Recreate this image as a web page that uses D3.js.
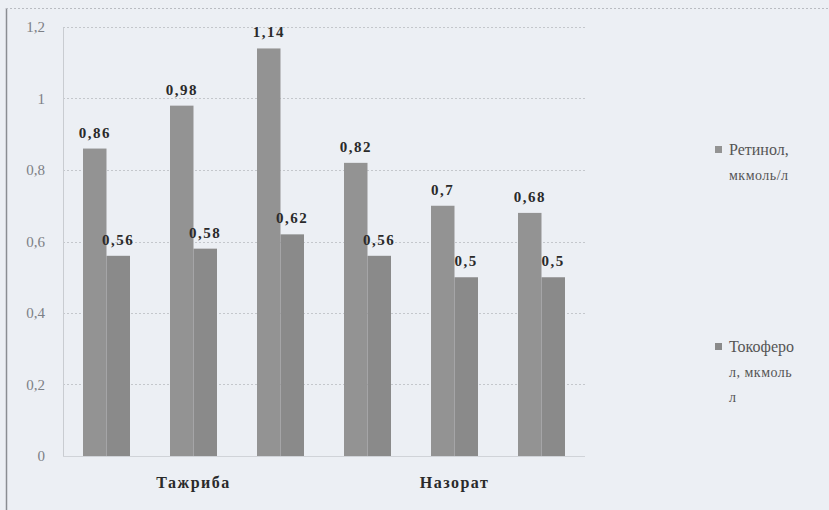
<!DOCTYPE html>
<html>
<head>
<meta charset="utf-8">
<script src="https://cdn.jsdelivr.net/npm/d3@7"></script>
<style>
  html, body { margin: 0; padding: 0; background: #eceff4; }
  svg { display: block; }
  svg text { font-family: "Liberation Serif", "Times New Roman", "DejaVu Serif", serif; }
</style>
</head>
<body>
<svg id="chart" width="829" height="510"></svg>
<script>
// ---- data ----
const categories = ["Т1", "Т2", "Т3", "Н1", "Н2", "Н3"];
const categoryGroup = ["Тажриба", "Тажриба", "Тажриба", "Назорат", "Назорат", "Назорат"];
const outerLabels = ["Тажриба", "Назорат"];
const seriesNames = ["Ретинол, мкмоль/л", "Токоферол, мкмоль/л"];
const legendLines = [["Ретинол,", "мкмоль/л"], ["Токоферо", "л, мкмоль", "л"]];
const retinol = [0.86, 0.98, 1.14, 0.82, 0.7, 0.68];
const tocopherol = [0.56, 0.58, 0.62, 0.56, 0.5, 0.5];
const yTicks = [0, 0.2, 0.4, 0.6, 0.8, 1, 1.2];

const comma = v => String(v).replace(".", ",");
const SERIF = "'Liberation Serif', 'Times New Roman', 'DejaVu Serif', serif";

const svg = d3.select("#chart");
const W = 829, H = 510;
const plot = { left: 63, right: 585, top: 27, bottom: 456 };

// frame
svg.append("rect").attr("x", 0).attr("y", 0).attr("width", W).attr("height", H).attr("fill", "#eceff4");
svg.append("line").attr("x1", 6.5).attr("x2", 6.5).attr("y1", 8).attr("y2", H)
  .attr("stroke", "#8a8d92").attr("stroke-width", 1.5);
svg.append("line").attr("x1", 6).attr("x2", W).attr("y1", 8.5).attr("y2", 8.5)
  .attr("stroke", "#b9bcc2").attr("stroke-width", 1).attr("stroke-dasharray", "2,2");

// scales
const x0 = d3.scaleBand().domain(categories).range([plot.left, plot.right])
  .paddingInner(0.46).paddingOuter(0.23);
const x1 = d3.scaleBand().domain(seriesNames).range([0, x0.bandwidth()]);
const y = d3.scaleLinear().domain([0, 1.2]).range([plot.bottom, plot.top]);

// gridlines
svg.append("g").selectAll("line").data(yTicks.filter(t => t > 0)).join("line")
  .attr("x1", plot.left).attr("x2", plot.right)
  .attr("y1", d => Math.round(y(d)) + 0.5).attr("y2", d => Math.round(y(d)) + 0.5)
  .attr("stroke", "#c4c7cc").attr("stroke-width", 1).attr("stroke-dasharray", "2,2");

// y axis
const yAxis = d3.axisLeft(y).tickValues(yTicks).tickFormat(comma).tickSize(0).tickPadding(18);
const gy = svg.append("g").attr("transform", `translate(${plot.left},0)`).call(yAxis);
gy.attr("font-family", null).attr("font-size", null);
gy.select(".domain").attr("stroke", "#c9ccd1");
gy.selectAll("text").style("font-family", SERIF)
  .style("font-size", "15px").attr("fill", "#7d8086");

// x axis line
svg.append("line").attr("x1", plot.left).attr("x2", plot.right)
  .attr("y1", plot.bottom + 0.5).attr("y2", plot.bottom + 0.5)
  .attr("stroke", "#d0d3d8");

// bars
const rows = categories.map((c, i) => ({ c, vals: [retinol[i], tocopherol[i]] }));
const colors = ["#939393", "#8a8a8a"];
const gBars = svg.append("g").selectAll("g").data(rows).join("g")
  .attr("transform", d => `translate(${x0(d.c)},0)`);
gBars.selectAll("rect").data(d => d.vals.map((v, k) => ({ v, k }))).join("rect")
  .attr("x", d => x1(seriesNames[d.k]))
  .attr("width", x1.bandwidth())
  .attr("y", d => y(d.v))
  .attr("height", d => y(0) - y(d.v))
  .attr("fill", d => colors[d.k]);
gBars.selectAll("text").data(d => d.vals.map((v, k) => ({ v, k }))).join("text")
  .attr("x", d => x1(seriesNames[d.k]) + x1.bandwidth() / 2)
  .attr("y", d => y(d.v) - 11)
  .attr("text-anchor", "middle")
  .style("font-family", SERIF)
  .style("font-weight", "bold").style("font-size", "15px").style("letter-spacing", "1.5px")
  .attr("fill", "#2a2a2a")
  .text(d => comma(d.v));

// outer category labels
outerLabels.forEach(lbl => {
  const idx = categories.filter((c, i) => categoryGroup[i] === lbl);
  const xs = idx.map(c => x0(c) + x0.bandwidth() / 2);
  const cx = (d3.min(xs) + d3.max(xs)) / 2;
  svg.append("text").attr("x", cx).attr("y", 488).attr("text-anchor", "middle")
    .style("font-family", SERIF)
    .style("font-weight", "bold").style("font-size", "16px").style("letter-spacing", "1.5px")
    .attr("fill", "#2a2a2a").text(lbl);
});

// legend
const legendY = [150, 347];
legendLines.forEach((lines, k) => {
  const g = svg.append("g");
  g.append("rect").attr("x", 715).attr("y", legendY[k] - 4).attr("width", 7).attr("height", 7)
    .attr("fill", colors[k]);
  lines.forEach((t, j) => {
    g.append("text").attr("x", 729).attr("y", legendY[k] + j * 25 + 5)
      .style("font-family", SERIF)
      .style("font-size", j === 0 ? "16px" : "14px").attr("fill", "#555")
      .style("letter-spacing", j === 0 ? "0px" : "0.5px")
      .text(t);
  });
});
</script>
</body>
</html>
